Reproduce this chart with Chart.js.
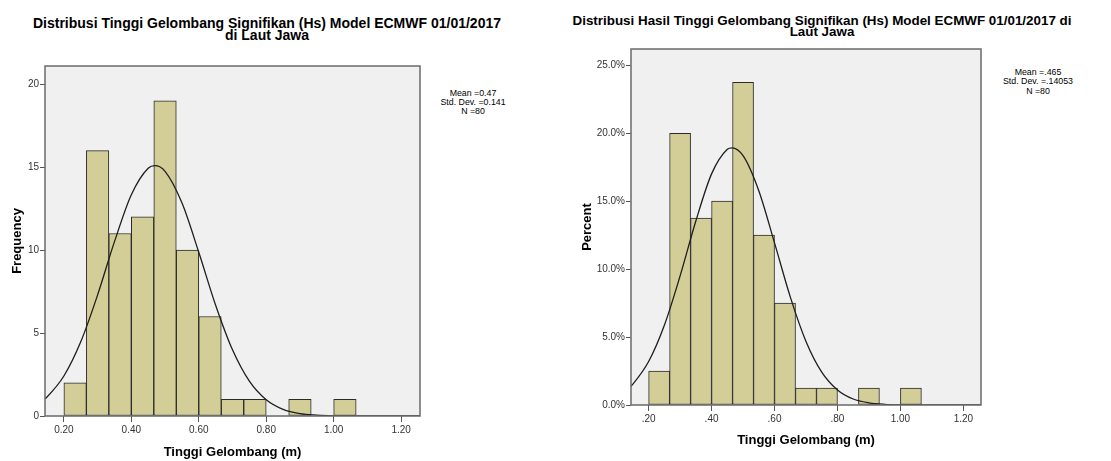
<!DOCTYPE html>
<html>
<head>
<meta charset="utf-8">
<script src="https://cdn.jsdelivr.net/npm/chart.js@4.4.1/dist/chart.umd.min.js"></script>
<style>
  html, body { margin:0; padding:0; background:#fff; }
  body { width:1111px; height:461px; position:relative; overflow:hidden; font-family:"Liberation Sans", Arial, sans-serif; }
  canvas { position:absolute; left:0; top:0; }
  .ttl { position:absolute; text-align:center; font-weight:bold; color:#000; white-space:nowrap; }
  .stats { position:absolute; text-align:center; color:#000; white-space:nowrap; font-size:8.8px; line-height:9.3px; }
</style>
</head>
<body>
<div class="ttl" style="left:17px;width:500px;top:16.5px;font-size:14px;line-height:12px;">Distribusi Tinggi Gelombang Signifikan (Hs) Model ECMWF 01/01/2017<br>di Laut Jawa</div>
<div class="ttl" style="left:522px;width:600px;top:15px;font-size:13.4px;line-height:11px;">Distribusi Hasil Tinggi Gelombang Signifikan (Hs) Model ECMWF 01/01/2017 di<br>Laut Jawa</div>
<div class="stats" style="left:423px;width:100px;top:88.5px;">Mean =0.47<br>Std. Dev. =0.141<br>N =80</div>
<div class="stats" style="left:988px;width:100px;top:68px;">Mean =.465<br>Std. Dev. =.14053<br>N =80</div>
<canvas id="c1" width="1111" height="461"></canvas>
<canvas id="c2" width="1111" height="461"></canvas>
<script>
// ---- data ----
const binEdges = [0.2000,0.2667,0.3333,0.4000,0.4667,0.5333,0.6000,0.6667,0.7333,0.8000,0.8667,0.9333,1.0000,1.0667];
const freqCounts = [2,16,11,12,19,10,6,1,1,0,1,0,1];
const percentValues = [2.5,20.0,13.75,15.0,23.75,12.5,7.5,1.25,1.25,0,1.25,0,1.25];

const curveXLeft  = [0.14,0.15,0.20,0.25,0.30,0.35,0.40,0.45,0.47,0.50,0.55,0.60,0.65,0.70,0.75,0.80,0.85,0.90,0.95,1.00,1.05,1.10,1.15,1.20,1.26];
const curveYLeft  = [0.98,1.15,2.41,4.47,7.30,10.51,13.34,14.94,15.09,14.75,12.85,9.87,6.68,3.99,2.10,0.98,0.40,0.14,0.05,0.01,0.00,0.00,0.00,0.00,0.00];
const curveXRight = [0.14,0.15,0.20,0.25,0.30,0.35,0.40,0.45,0.465,0.50,0.55,0.60,0.65,0.70,0.75,0.80,0.85,0.90,0.95,1.00,1.05,1.10,1.15,1.20,1.26];
const curveYRight = [1.31,1.54,3.20,5.87,9.50,13.54,17.01,18.82,18.93,18.35,15.77,11.93,7.96,4.68,2.42,1.11,0.44,0.16,0.05,0.01,0.00,0.00,0.00,0.00,0.00];

const xTickValues = [0.2,0.4,0.6,0.8,1.0,1.2];
const xTickLabelsLeft  = ['0.20','0.40','0.60','0.80','1.00','1.20'];
const xTickLabelsRight = ['.20','.40','.60','.80','1.00','1.20'];
const yTickValuesLeft  = [0,5,10,15,20];
const yTickLabelsLeft  = ['0','5','10','15','20'];
const yTickValuesRight = [0,5,10,15,20,25];
const yTickLabelsRight = ['0.0%','5.0%','10.0%','15.0%','20.0%','25.0%'];

const xTitle = 'Tinggi Gelombang (m)';

// ---- helpers ----
const frame = {
  id: 'frame',
  beforeDraw(chart) {
    const {ctx, chartArea: a} = chart;
    ctx.save();
    ctx.fillStyle = '#f0f0f0';
    ctx.fillRect(a.left, a.top, a.right - a.left, a.bottom - a.top);
    ctx.restore();
  },
  afterDraw(chart) {
    const {ctx, chartArea: a} = chart;
    ctx.save();
    ctx.strokeStyle = '#6a6a6a';
    ctx.lineWidth = 1.5;
    ctx.strokeRect(a.left, a.top, a.right - a.left, a.bottom - a.top);
    ctx.restore();
  }
};

function makeChart(id, cfg) {
  const bars = cfg.values.map((v, i) => ({x: (binEdges[i] + binEdges[i + 1]) / 2, y: v}));
  const curve = cfg.cx.map((x, i) => ({x: x, y: cfg.cy[i]}));
  return new Chart(document.getElementById(id), {
    type: 'bar',
    data: {
      datasets: [
        {
          type: 'line', data: curve, order: 0,
          borderColor: '#1e1e1e', borderWidth: 1.3, pointRadius: 0,
          cubicInterpolationMode: 'monotone', fill: false
        },
        {
          type: 'bar', data: bars, order: 1,
          backgroundColor: '#d3ce97', borderColor: '#2a2a2a', borderWidth: 1,
          borderSkipped: false, barPercentage: 1, categoryPercentage: 1
        }
      ]
    },
    options: {
      responsive: false, animation: false, devicePixelRatio: 1,
      layout: { padding: cfg.padding },
      plugins: { legend: { display: false }, tooltip: { enabled: false } },
      scales: {
        x: {
          type: 'linear', min: cfg.xmin, max: cfg.xmax, offset: false,
          afterFit: s => { s.height = cfg.xh; },
          afterBuildTicks: s => { s.ticks = xTickValues.map(v => ({value: v})); },
          grid: { display: true, drawOnChartArea: false, drawTicks: true, tickLength: 6, color: '#555', offset: false },
          border: { display: false },
          ticks: { maxRotation: 0, autoSkip: false, padding: 2, color: '#333',
                   font: { family: 'Liberation Sans', size: 10 },
                   callback: (v, i) => cfg.xLabels[i] },
          title: { display: true, text: xTitle, color: '#000', padding: 0,
                   font: { family: 'Liberation Sans', size: 13, weight: 'bold' } }
        },
        y: {
          type: 'linear', min: 0, max: cfg.ymax,
          afterFit: s => { s.width = cfg.yw; },
          afterBuildTicks: s => { s.ticks = cfg.yVals.map(v => ({value: v})); },
          grid: { display: true, drawOnChartArea: false, drawTicks: true, tickLength: 5, color: '#555' },
          border: { display: false },
          ticks: { padding: 1, color: '#333', autoSkip: false,
                   font: { family: 'Liberation Sans', size: 10 },
                   callback: (v, i) => cfg.yLabels[i] },
          title: { display: true, text: cfg.yTitle, color: '#000', padding: 0,
                   font: { family: 'Liberation Sans', size: 13, weight: 'bold' } }
        }
      }
    },
    plugins: [frame]
  });
}

makeChart('c1', {
  values: freqCounts, cx: curveXLeft, cy: curveYLeft,
  xmin: 0.144, xmax: 1.256, ymax: 21.1,
  padding: { left: 10, top: 66, right: 691, bottom: 1 },
  xh: 44, yw: 35,
  xLabels: xTickLabelsLeft, yVals: yTickValuesLeft, yLabels: yTickLabelsLeft,
  yTitle: 'Frequency'
});

makeChart('c2', {
  values: percentValues, cx: curveXRight, cy: curveYRight,
  xmin: 0.144, xmax: 1.256, ymax: 26.2,
  padding: { left: 580, top: 49, right: 130, bottom: 13 },
  xh: 43, yw: 51,
  xLabels: xTickLabelsRight, yVals: yTickValuesRight, yLabels: yTickLabelsRight,
  yTitle: 'Percent'
});
</script>
</body>
</html>
